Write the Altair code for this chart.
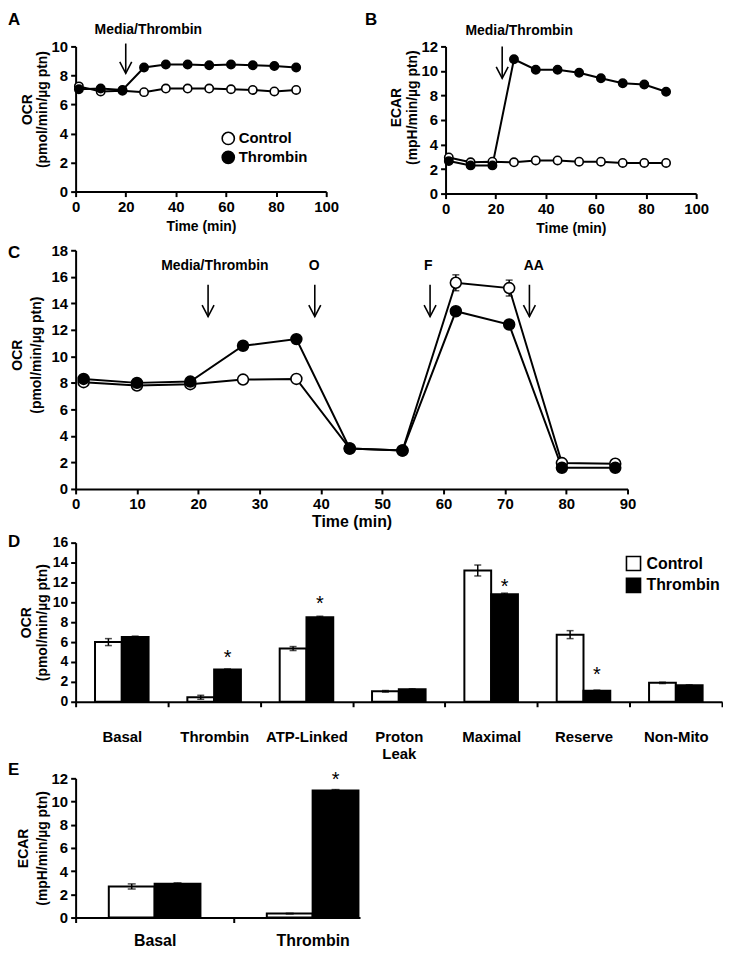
import json
import altair as alt
import pandas as pd

FONT = "Liberation Sans"

# ---------------- Panels A-C: time course ----------------
time_min = [1.3, 10.0, 18.7, 27.3, 36.0, 44.7, 53.3, 62.0, 70.7, 79.3, 88.0]

ocr_a_control = [7.25, 6.9, 6.95, 6.85, 7.1, 7.1, 7.1, 7.05, 7.0, 6.9, 7.0]
ocr_a_thrombin = [7.05, 7.1, 7.0, 8.55, 8.75, 8.75, 8.7, 8.75, 8.7, 8.65, 8.55]

ecar_b_control = [2.95, 2.55, 2.6, 2.55, 2.7, 2.7, 2.6, 2.6, 2.5, 2.5, 2.5]
ecar_b_thrombin = [2.65, 2.3, 2.3, 10.95, 10.1, 10.1, 9.85, 9.4, 9.0, 8.9, 8.3]

ocr_c_control = [8.05, 7.8, 7.9, 8.25, 8.3, 3.05, 2.9, 15.55, 15.15, 1.95, 1.9]
ocr_c_thrombin = [8.3, 8.0, 8.1, 10.8, 11.3, 3.05, 2.9, 13.4, 12.4, 1.6, 1.6]
err_c_control = [0.25, 0.2, 0.2, 0.15, 0.15, 0.15, 0.1, 0.6, 0.6, 0.15, 0.1]
err_c_thrombin = [0.25, 0.2, 0.2, 0.2, 0.2, 0.15, 0.1, 0.25, 0.2, 0.15, 0.1]

# injection annotations (label text, label position, arrow position)
inj_a_text = ["Media/Thrombin"]
inj_a_text_time = [29.0]
inj_a_text_level = [11.1]
inj_a_arrow_time = [20.0]
inj_a_arrow_top = [10.2]
inj_a_arrow_tip = [8.15]

inj_b_text = ["Media/Thrombin"]
inj_b_text_time = [29.4]
inj_b_text_level = [13.25]
inj_b_arrow_time = [22.6]
inj_b_arrow_top = [12.0]
inj_b_arrow_tip = [9.4]

inj_c_text = ["Media/Thrombin", "O", "F", "AA"]
inj_c_text_time = [22.7, 38.9, 57.5, 74.7]
inj_c_text_level = [16.8, 16.8, 16.8, 16.8]
inj_c_arrow_time = [21.6, 39.0, 57.8, 74.0]
inj_c_arrow_top = [15.4, 15.4, 15.4, 15.4]
inj_c_arrow_tip = [13.0, 13.0, 13.0, 13.0]

# ---------------- Panel D ----------------
cat_d = ["Basal", "Thrombin", "ATP-Linked", "Proton Leak", "Maximal", "Reserve", "Non-Mito"]
ocr_d_control = [6.0, 0.45, 5.35, 1.05, 13.2, 6.75, 1.9]
ocr_d_thrombin = [6.5, 3.25, 8.5, 1.25, 10.8, 1.1, 1.65]
err_d_control = [0.35, 0.2, 0.2, 0.08, 0.55, 0.4, 0.07]
err_d_thrombin = [0.1, 0.05, 0.1, 0.05, 0.12, 0.07, 0.05]
star_d_cat = ["Thrombin", "ATP-Linked", "Maximal", "Reserve"]
star_d_level = [4.9, 10.3, 12.0, 3.2]

# ---------------- Panel E ----------------
cat_e = ["Basal", "Thrombin"]
ecar_e_control = [2.68, 0.34]
ecar_e_thrombin = [2.92, 10.95]
err_e_control = [0.22, 0.03]
err_e_thrombin = [0.07, 0.08]
star_e_cat = ["Thrombin"]
star_e_level = [12.25]

GROUPS = ["Control", "Thrombin"]
FILL = alt.Scale(domain=GROUPS, range=["white", "black"])
ARROW_HEAD = "M-1,-1.9L0,0L1,-1.9"


def long_df(xs, ctl, thr, ctl_err=None, thr_err=None):
    rows = []
    for g, vals, errs in (("Control", ctl, ctl_err), ("Thrombin", thr, thr_err)):
        for i, (x, v) in enumerate(zip(xs, vals)):
            e = errs[i] if errs else 0.0
            rows.append({"x": x, "value": v, "group": g, "lo": v - e, "hi": v + e})
    return pd.DataFrame(rows)


def letter_layer(letter, dx, dy):
    return alt.Chart(pd.DataFrame({"t": [letter]})).mark_text(
        align="left", baseline="middle", fontSize=17, font=FONT, fontWeight="bold", color="black"
    ).encode(text="t:N", x=alt.value(dx), y=alt.value(dy))


def time_panel(ctl, thr, ctl_err, thr_err, ann, *, width, height, xmax, xstep, ymax,
               ytitle, label_size, xtitle_size, ytitle_size, title_lh, title_pad,
               title_y, xtitle_pad, pt_size, ann_size, letter, letter_dx, letter_dy,
               legend=None):
    xs = alt.Scale(domain=[0, xmax], nice=False, zero=False)
    ys = alt.Scale(domain=[0, ymax], nice=False, zero=False)
    xax = alt.Axis(values=list(range(0, xmax + 1, xstep)), title="Time (min)",
                   labelFontSize=label_size, titleFontSize=xtitle_size, titlePadding=xtitle_pad)
    yax = alt.Axis(values=list(range(0, ymax + 1, 2)), title=ytitle,
                   labelFontSize=label_size, titleFontSize=ytitle_size,
                   titleLineHeight=title_lh, titlePadding=title_pad, titleY=title_y)

    def X(f):
        return alt.X(f, scale=xs, axis=xax)

    def Y(f):
        return alt.Y(f, scale=ys, axis=yax)

    df = long_df(time_min, ctl, thr, ctl_err, thr_err)
    base = alt.Chart(df)
    layers = [base.mark_line(color="black", strokeWidth=2).encode(
        x=X("x:Q"), y=Y("value:Q"), detail="group:N")]
    if ctl_err:
        layers.append(base.mark_rule(color="black", strokeWidth=1.5).encode(
            x=X("x:Q"), y=Y("lo:Q"), y2="hi:Q"))
        for f in ("lo:Q", "hi:Q"):
            layers.append(base.mark_tick(orient="horizontal", size=7, thickness=1.5,
                                         color="black").encode(x=X("x:Q"), y=Y(f)))
    layers.append(base.mark_point(shape="circle", filled=True, stroke="black", strokeWidth=1.6,
                                  size=pt_size, opacity=1).encode(
        x=X("x:Q"), y=Y("value:Q"),
        fill=alt.Fill("group:N", scale=FILL, legend=legend),
    ))
    texts, tx, ty, ax, atop, atip = ann
    lab = pd.DataFrame({"label": texts, "x": tx, "value": ty})
    arr = pd.DataFrame({"x": ax, "value": atop, "tip": atip})
    layers.append(alt.Chart(lab).mark_text(
        fontSize=ann_size, font=FONT, fontWeight="bold", color="black", baseline="middle"
    ).encode(x=X("x:Q"), y=Y("value:Q"), text="label:N"))
    layers.append(alt.Chart(arr).mark_rule(color="black", strokeWidth=1.6).encode(
        x=X("x:Q"), y=Y("value:Q"), y2="tip:Q"))
    layers.append(alt.Chart(arr).mark_point(
        shape=ARROW_HEAD, filled=False, color="black", strokeWidth=1.6, size=144, opacity=1
    ).encode(x=X("x:Q"), y=Y("tip:Q")))
    layers.append(letter_layer(letter, letter_dx, letter_dy))
    return alt.layer(*layers).properties(width=width, height=height)


legend_a = alt.Legend(
    orient="none", legendX=146, legendY=85, title=None, symbolType="circle", symbolSize=150,
    symbolStrokeColor="black", symbolStrokeWidth=1.6, symbolOpacity=1, labelFontSize=15,
    labelFont=FONT, labelFontWeight="bold", labelColor="black", rowPadding=0, labelOffset=3,
    padding=0,
)

panel_a = time_panel(
    ocr_a_control, ocr_a_thrombin, None, None,
    (inj_a_text, inj_a_text_time, inj_a_text_level, inj_a_arrow_time, inj_a_arrow_top, inj_a_arrow_tip),
    width=252, height=146, xmax=100, xstep=20, ymax=10, ytitle=["OCR", "(pmol/min/µg ptn)"],
    label_size=15, xtitle_size=14, ytitle_size=14, title_lh=15, title_pad=2, title_y=63,
    xtitle_pad=5, pt_size=70, ann_size=14, letter="A", letter_dx=-68, letter_dy=-27,
    legend=legend_a,
)

panel_b = time_panel(
    ecar_b_control, ecar_b_thrombin, None, None,
    (inj_b_text, inj_b_text_time, inj_b_text_level, inj_b_arrow_time, inj_b_arrow_top, inj_b_arrow_tip),
    width=252, height=148, xmax=100, xstep=20, ymax=12, ytitle=["ECAR", "(mpH/min/µg ptn)"],
    label_size=15, xtitle_size=14, ytitle_size=14, title_lh=16, title_pad=2, title_y=61,
    xtitle_pad=5, pt_size=70, ann_size=14, letter="B", letter_dx=-81, letter_dy=-27,
    legend=None,
)

panel_c = time_panel(
    ocr_c_control, ocr_c_thrombin, err_c_control, err_c_thrombin,
    (inj_c_text, inj_c_text_time, inj_c_text_level, inj_c_arrow_time, inj_c_arrow_top, inj_c_arrow_tip),
    width=555, height=240, xmax=90, xstep=10, ymax=18, ytitle=["OCR", "(pmol/min/µg ptn)"],
    label_size=15, xtitle_size=16, ytitle_size=14, title_lh=19, title_pad=8, title_y=105,
    xtitle_pad=2, pt_size=120, ann_size=14, letter="C", letter_dx=-68, letter_dy=3,
    legend=None,
)


def bar_panel(cats, ctl, thr, ctl_err, thr_err, star_cat, star_level, *, width, height,
              xmax, ymax, ytitle, ylabel_size, xlabel_size, label_pad, title_lh, title_pad,
              cap, letter, letter_dy, legend=None):
    rows = []
    for i, c in enumerate(cats):
        rows.append({"idx": i, "group": "Control", "value": ctl[i], "err": ctl_err[i]})
        rows.append({"idx": i, "group": "Thrombin", "value": thr[i], "err": thr_err[i]})
    df = pd.DataFrame(rows)
    base = alt.Chart(df).transform_calculate(
        x0="datum.idx + (datum.group == 'Control' ? 0.21 : 0.5)",
        x1="datum.idx + (datum.group == 'Control' ? 0.5 : 0.79)",
        xc="datum.idx + (datum.group == 'Control' ? 0.355 : 0.645)",
        zero="0",
        lo="datum.value - datum.err",
        hi="datum.value + datum.err",
    )
    names = [c.split(" ") if " " in c else c for c in cats]
    label_expr = "datum.value % 1 === 0 ? '' : " + json.dumps(names) + "[floor(datum.value)]"
    xs = alt.Scale(domain=[0, xmax], nice=False, zero=False)
    ys = alt.Scale(domain=[0, ymax], nice=False, zero=False)
    xax = alt.Axis(
        values=[i * 0.5 for i in range(int(xmax * 2) + 1)], labelExpr=label_expr, title=None,
        labelFontSize=xlabel_size, labelPadding=label_pad, labelLineHeight=17,
        tickOpacity={"condition": {"test": "datum.value % 1 === 0", "value": 1}, "value": 0},
    )
    yax = alt.Axis(values=list(range(0, ymax + 1, 2)), title=ytitle, labelFontSize=ylabel_size,
                   titleFontSize=14, titleLineHeight=title_lh, titlePadding=title_pad)

    def X(f):
        return alt.X(f, scale=xs, axis=xax)

    def Y(f):
        return alt.Y(f, scale=ys, axis=yax)

    bars = base.mark_rect(stroke="black", strokeWidth=2).encode(
        x=X("x0:Q"), x2="x1:Q", y=Y("value:Q"), y2="zero:Q",
        fill=alt.Fill("group:N", scale=FILL, legend=legend),
    )
    err = base.mark_rule(color="black", strokeWidth=1.5).encode(x=X("xc:Q"), y=Y("lo:Q"), y2="hi:Q")
    caps = [base.mark_tick(orient="horizontal", size=cap, thickness=1.5, color="black").encode(
        x=X("xc:Q"), y=Y(f)) for f in ("lo:Q", "hi:Q")]
    sdf = pd.DataFrame({"cat": star_cat, "value": star_level})
    sdf["idx"] = [cats.index(c) for c in star_cat]
    stars = alt.Chart(sdf).transform_calculate(xc="datum.idx + 0.645").mark_text(
        text="*", fontSize=20, font=FONT, color="black", baseline="alphabetic", dy=11
    ).encode(x=X("xc:Q"), y=Y("value:Q"))
    return alt.layer(bars, err, *caps, stars, letter_layer(letter, -68, letter_dy)).properties(
        width=width, height=height)


legend_d = alt.Legend(
    orient="none", legendX=553, legendY=13, title=None, symbolType="square", symbolSize=200,
    symbolStrokeColor="black", symbolStrokeWidth=1.6, symbolOpacity=1, labelFontSize=16,
    labelFont=FONT, labelFontWeight="bold", labelColor="black", rowPadding=0, labelOffset=5,
    padding=0,
)

panel_d = bar_panel(
    cat_d, ocr_d_control, ocr_d_thrombin, err_d_control, err_d_thrombin, star_d_cat, star_d_level,
    width=650, height=160, xmax=7, ymax=16, ytitle=["OCR", "(pmol/min/µg ptn)"], ylabel_size=14,
    xlabel_size=15, label_pad=23, title_lh=16, title_pad=3, cap=7, letter="D", letter_dy=-1,
    legend=legend_d,
)

panel_e = bar_panel(
    cat_e, ecar_e_control, ecar_e_thrombin, err_e_control, err_e_thrombin, star_e_cat, star_e_level,
    width=286, height=140, xmax=1.8, ymax=12, ytitle=["ECAR", "(mpH/min/µg ptn)"], ylabel_size=15,
    xlabel_size=16, label_pad=10, title_lh=19, title_pad=2, cap=8, letter="E", letter_dy=-8,
    legend=None,
)

row1 = alt.hconcat(panel_a, panel_b, spacing=26).resolve_scale(fill="independent")
bottom = alt.vconcat(panel_d, panel_e, spacing=0).resolve_scale(fill="independent")
middle = alt.vconcat(panel_c, bottom, spacing=3).resolve_scale(fill="independent")
chart = alt.vconcat(row1, middle, spacing=8).resolve_scale(fill="independent").properties(
    padding=0
).configure_view(stroke=None).configure_axis(
    domainColor="black", domainWidth=2, tickColor="black", tickWidth=2, tickSize=5,
    labelColor="black", titleColor="black", labelFont=FONT, titleFont=FONT,
    labelFontWeight="bold", titleFontWeight="bold", grid=False, labelFlush=False,
    labelOverlap=False, labelPadding=3,
)

chart.save("out.html", embed_options={"renderer": "svg", "actions": False})
